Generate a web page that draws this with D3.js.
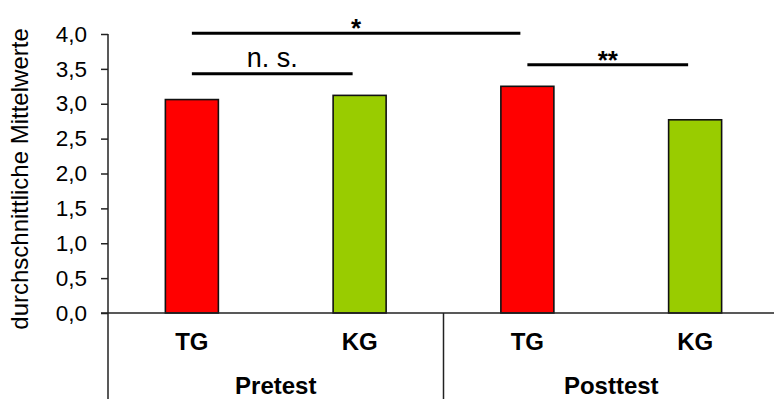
<!DOCTYPE html>
<html>
<head>
  <script src="https://d3js.org/d3.v7.min.js"></script>
  <style>
    body { margin: 0; background: #fff; }
    text { font-family: "Liberation Sans", Arial, sans-serif; fill: #000; }
  </style>
</head>
<body>
  <svg id="svg" width="774" height="399"></svg>
  <script>
    // data
    const groups = ["Pretest", "Posttest"];
    const conditions = ["TG", "KG"];
    const values = [3.06, 3.12, 3.25, 2.77];
    const barColors = ["#ff0000", "#99cc00", "#ff0000", "#99cc00"];
    const yTicks = [0, 0.5, 1, 1.5, 2, 2.5, 3, 3.5, 4];

    // significance brackets: from bar, to bar, height (axis units), label
    const sigFrom = [0, 0, 2];
    const sigTo = [2, 1, 3];
    const sigLevel = [4.01, 3.43, 3.56];
    const sigLabel = ["*", "n. s.", "**"];

    const svg = d3.select("#svg");
    const margins = { left: 108, top: 34, bottom: 313 };

    const bars = [];
    groups.forEach((g, gi) => conditions.forEach((c, ci) => {
      bars.push({ group: g, cond: c, value: values[gi * 2 + ci], color: barColors[gi * 2 + ci] });
    }));

    // ************ scales ************
    const x = d3.scaleBand().domain(d3.range(bars.length)).range([margins.left, 779]).padding(0);
    const xGroup = d3.scaleBand().domain(groups).range([margins.left, 779]).padding(0);
    const y = d3.scaleLinear().domain([0, 4]).range([margins.bottom, margins.top]);
    const barW = x.bandwidth() * 0.316;
    const cx = i => x(i) + x.bandwidth() / 2;

    // ************ y axis ************
    const yAxis = d3.axisLeft(y).tickValues(yTicks).tickSize(7).tickPadding(14)
      .tickFormat(d => d3.format(".1f")(d).replace(".", ","));
    const gy = svg.append("g").attr("transform", `translate(${margins.left},0)`).call(yAxis);
    gy.select(".domain").remove();
    gy.selectAll(".tick line").attr("stroke", "#222").attr("stroke-width", 1.5);
    gy.selectAll(".tick text").style("font-size", "22.5px").style("font-family", "Liberation Sans, Arial, sans-serif");

    svg.append("text")
      .attr("transform", `translate(28,${(23 + 335) / 2}) rotate(-90)`)
      .attr("text-anchor", "middle")
      .style("font-size", "24px")
      .text("durchschnittliche Mittelwerte");

    // ************ bars ************
    svg.selectAll("rect.bar")
      .data(bars)
      .join("rect")
      .attr("class", "bar")
      .attr("x", (d, i) => cx(i) - barW / 2)
      .attr("width", barW)
      .attr("y", d => y(d.value))
      .attr("height", d => y(0) - y(d.value))
      .attr("fill", d => d.color)
      .attr("stroke", "#111")
      .attr("stroke-width", 1.6);

    // ************ axis lines ************
    svg.append("line").attr("x1", margins.left).attr("x2", margins.left)
      .attr("y1", y(4)).attr("y2", 399).attr("stroke", "#222").attr("stroke-width", 1.5);
    svg.append("line").attr("x1", margins.left - 7).attr("x2", 774)
      .attr("y1", y(0)).attr("y2", y(0)).attr("stroke", "#222").attr("stroke-width", 1.5);
    svg.append("line").attr("x1", xGroup(groups[1])).attr("x2", xGroup(groups[1]))
      .attr("y1", y(0)).attr("y2", 399).attr("stroke", "#222").attr("stroke-width", 1.5);

    // category labels
    svg.selectAll("text.cond")
      .data(bars)
      .join("text")
      .attr("class", "cond")
      .attr("x", (d, i) => cx(i))
      .attr("y", 350)
      .attr("text-anchor", "middle")
      .style("font-size", "24px")
      .style("font-weight", "bold")
      .text(d => d.cond);

    svg.selectAll("text.group")
      .data(groups)
      .join("text")
      .attr("class", "group")
      .attr("x", d => xGroup(d) + xGroup.bandwidth() / 2)
      .attr("y", 394)
      .attr("text-anchor", "middle")
      .style("font-size", "24px")
      .style("font-weight", "bold")
      .text(d => d);

    // ************ significance brackets ************
    sigLabel.forEach((lab, k) => {
      const x1 = cx(sigFrom[k]);
      const x2 = cx(sigTo[k]) - 7;
      const yy = y(sigLevel[k]);
      svg.append("line").attr("x1", x1).attr("x2", x2).attr("y1", yy).attr("y2", yy)
        .attr("stroke", "#000").attr("stroke-width", 3);
      const isStar = lab.indexOf("*") >= 0;
      svg.append("text")
        .attr("x", (x1 + x2) / 2)
        .attr("y", isStar ? yy + 4 : yy - 7)
        .attr("text-anchor", "middle")
        .style("font-size", isStar ? "26px" : "27px")
        .style("font-weight", isStar ? "bold" : "normal")
        .text(lab);
    });
  </script>
</body>
</html>
